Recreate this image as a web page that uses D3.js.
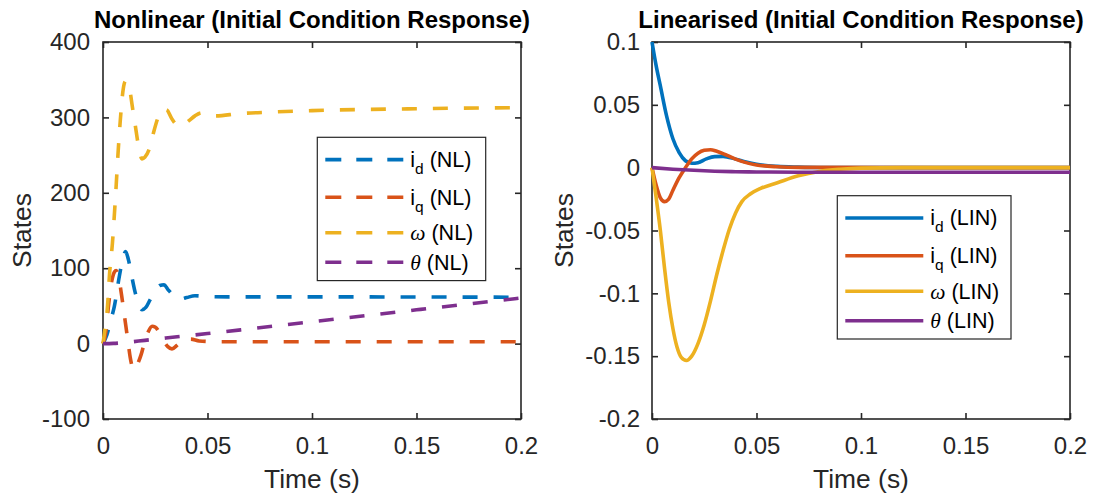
<!DOCTYPE html>
<html>
<head>
<meta charset="utf-8">
<script src="https://cdn.jsdelivr.net/npm/d3@7"></script>
<style>
  body { margin: 0; background: #fff; }
  svg { font-family: "Liberation Sans", Arial, sans-serif; }
</style>
</head>
<body>
<svg id="chart" width="1116" height="493"></svg>
<script>
// time ticks shared by both plots
const xTicks = [0, 0.05, 0.1, 0.15, 0.2];
const yTicksNL = [-100, 0, 100, 200, 300, 400];
const yTicksLIN = [-0.2, -0.15, -0.1, -0.05, 0, 0.05, 0.1];

// nonlinear response, [time, value]
const idNL = [[0,0],[0.0018,11],[0.0036,30],[0.0054,49],[0.0078,89],[0.0095,113],[0.0108,122],[0.0121,112],
  [0.0137,90],[0.0153,69],[0.017,53],[0.0187,45],[0.0205,48],[0.0225,58],[0.025,70],[0.0272,77],[0.0292,78],
  [0.031,72],[0.034,63],[0.037,59],[0.04,61],[0.044,63.5],[0.05,62.5],[0.06,62],[0.1,62],[0.15,61.8],[0.2,61.5]];
const iqNL = [[0,0],[0.0013,14],[0.0025,47],[0.004,80],[0.0055,95],[0.0063,97],[0.0075,88],[0.0089,64],[0.01,42],
  [0.011,22],[0.012,2],[0.013,-18],[0.014,-31],[0.0148,-35],[0.016,-30],[0.0182,-15],[0.02,3],[0.0217,16],
  [0.0235,23],[0.025,22],[0.028,9],[0.031,-4],[0.033,-7],[0.0355,-2],[0.0384,6],[0.042,6],[0.046,3.5],
  [0.055,2.5],[0.1,2.5],[0.2,2.5]];
const omegaNL = [[0,0],[0.0007,14],[0.0022,51],[0.0031,91],[0.0045,133],[0.0062,205],[0.0073,257],[0.0083,297],
  [0.0097,338],[0.0108,348],[0.0118,345],[0.0129,335],[0.014,315],[0.0153,292],[0.017,262],[0.0187,245],
  [0.02,247],[0.0225,261],[0.0241,279],[0.0265,301],[0.0289,311],[0.0305,310],[0.033,298],[0.0355,290],
  [0.0378,289],[0.0408,295],[0.044,302],[0.0472,306],[0.054,302],[0.065,305],[0.08,307],[0.1,309],
  [0.15,311.5],[0.2,313]];
const thetaNL = [[0,0],[0.005,0.3],[0.01,1.3],[0.02,4.3],[0.03,7.4],[0.04,10.3],[0.05,13.3],[0.07,19.5],
  [0.1,29],[0.15,44.8],[0.2,60.5]];

// linearised response
const idLIN = [[0,0.1],[0.002,0.081],[0.004,0.065],[0.007,0.041],[0.01,0.023],[0.013,0.012],[0.016,0.0055],
  [0.019,0.0035],[0.022,0.004],[0.026,0.007],[0.03,0.0088],[0.034,0.009],[0.04,0.0068],[0.045,0.0045],
  [0.05,0.0027],[0.06,0.001],[0.07,0.0004],[0.08,0.0001],[0.2,0]];
const iqLIN = [[0,0],[0.002,-0.014],[0.004,-0.024],[0.006,-0.027],[0.008,-0.025],[0.01,-0.018],[0.013,-0.008],
  [0.016,0],[0.019,0.007],[0.022,0.0115],[0.025,0.0138],[0.028,0.0143],[0.031,0.013],[0.035,0.0105],
  [0.04,0.0068],[0.045,0.004],[0.05,0.0022],[0.06,0.0007],[0.07,0.0002],[0.2,0]];
const omegaLIN = [[0,0],[0.002,-0.024],[0.004,-0.05],[0.006,-0.08],[0.008,-0.107],[0.01,-0.128],[0.012,-0.143],
  [0.014,-0.151],[0.0165,-0.1535],[0.019,-0.15],[0.022,-0.14],[0.025,-0.125],[0.028,-0.106],[0.031,-0.085],
  [0.034,-0.066],[0.037,-0.049],[0.04,-0.036],[0.043,-0.027],[0.047,-0.021],[0.052,-0.0165],[0.06,-0.012],
  [0.07,-0.0065],[0.08,-0.003],[0.09,-0.0013],[0.1,-0.0004],[0.12,0],[0.2,0]];
const thetaLIN = [[0,0],[0.01,-0.0012],[0.02,-0.0021],[0.03,-0.0028],[0.04,-0.0032],[0.05,-0.0034],
  [0.07,-0.0036],[0.1,-0.0037],[0.2,-0.0037]];

const colors = ['#0072BD', '#D95319', '#EDB120', '#7E2F8E'];
const axisCol = '#262626';

const svg = d3.select('#chart');

function drawPanel(opts){
  const x = d3.scaleLinear().domain([0, 0.2]).range([opts.left, opts.right]);
  const y = d3.scaleLinear().domain(opts.yDomain).range([419, 42]);
  const g = svg.append('g');

  // box
  g.append('rect')
    .attr('x', opts.left).attr('y', 42)
    .attr('width', opts.right - opts.left).attr('height', 377)
    .attr('fill', 'none').attr('stroke', axisCol).attr('stroke-width', 1.6);

  const fmt = d => String(d);

  const bottom = g.append('g').attr('transform', 'translate(0,419)')
    .call(d3.axisBottom(x).tickValues(xTicks).tickFormat(fmt).tickSizeInner(-6).tickSizeOuter(0).tickPadding(17.5));
  const top = g.append('g').attr('transform', 'translate(0,42)')
    .call(d3.axisTop(x).tickValues(xTicks).tickFormat('').tickSizeInner(-6).tickSizeOuter(0));
  const left = g.append('g').attr('transform', `translate(${opts.left},0)`)
    .call(d3.axisLeft(y).tickValues(opts.yTicks).tickFormat(fmt).tickSizeInner(-6).tickSizeOuter(0).tickPadding(opts.yPad));
  const right = g.append('g').attr('transform', `translate(${opts.right},0)`)
    .call(d3.axisRight(y).tickValues(opts.yTicks).tickFormat('').tickSizeInner(-6).tickSizeOuter(0));

  [bottom, top, left, right].forEach(a => {
    a.select('.domain').remove();
    a.selectAll('line').attr('stroke', axisCol).attr('stroke-width', 1.6);
    a.selectAll('text').attr('fill', axisCol)
      .style('font-family', '"Liberation Sans", Arial, sans-serif')
      .style('font-size', '24px');
  });

  // titles and labels
  g.append('text')
    .attr('x', (opts.left + opts.right) / 2).attr('y', 28)
    .attr('text-anchor', 'middle')
    .style('font-size', '24px').style('font-weight', 'bold')
    .attr('fill', '#000')
    .text(opts.title);

  g.append('text')
    .attr('x', (opts.left + opts.right) / 2).attr('y', 488)
    .attr('text-anchor', 'middle')
    .style('font-size', '26.4px')
    .attr('fill', axisCol)
    .text('Time (s)');

  g.append('text')
    .attr('transform', `translate(${opts.ylabX},230.5) rotate(-90)`)
    .attr('text-anchor', 'middle')
    .style('font-size', '26.4px')
    .attr('fill', axisCol)
    .text('States');

  // curves
  const line = d3.line()
    .x(d => x(d[0]))
    .y(d => y(d[1]))
    .curve(d3.curveMonotoneX);

  opts.series.forEach((s, i) => {
    g.append('path')
      .attr('d', line(s))
      .attr('fill', 'none')
      .attr('stroke', colors[i])
      .attr('stroke-width', 3.6)
      .attr('stroke-dasharray', opts.dash || null);
  });

  // legend
  const lg = g.append('g').attr('transform', `translate(${opts.legX},${opts.legY})`);
  lg.append('rect')
    .attr('width', opts.legW).attr('height', 143.3)
    .attr('fill', '#fff').attr('stroke', axisCol).attr('stroke-width', 1.2);

  const rowY = [22.3, 60, 95.5, 125];
  const names = [['i', 'd'], ['i', 'q'], ['\u03c9', null], ['\u03b8', null]];
  names.forEach((n, i) => {
    lg.append('line')
      .attr('x1', 8).attr('x2', 86)
      .attr('y1', rowY[i]).attr('y2', rowY[i])
      .attr('stroke', colors[i]).attr('stroke-width', 3.6)
      .attr('stroke-dasharray', opts.dash ? '16,15' : null);

    const t = lg.append('text')
      .attr('x', 93).attr('y', rowY[i] + 7.5)
      .attr('fill', '#000')
      .style('font-size', '21.5px');
    if (n[1]) {
      t.append('tspan').text(n[0]);
      t.append('tspan').attr('dy', 7).style('font-size', '15.5px').text(n[1]);
      t.append('tspan').attr('dy', -7).text(' ' + opts.tag);
    } else {
      t.append('tspan')
        .style('font-family', '"Liberation Serif", "DejaVu Serif", serif')
        .style('font-style', 'italic')
        .text(n[0]);
      t.append('tspan').text(' ' + opts.tag);
    }
  });
}

drawPanel({
  left: 103, right: 521,
  yDomain: [-100, 400], yTicks: yTicksNL, yPad: 13, ylabX: 31,
  title: 'Nonlinear (Initial Condition Response)',
  series: [idNL, iqNL, omegaNL, thetaNL],
  dash: '15,16', tag: '(NL)',
  legX: 317.3, legY: 137.3, legW: 168.4
});

drawPanel({
  left: 652, right: 1070,
  yDomain: [-0.2, 0.1], yTicks: yTicksLIN, yPad: 12, ylabX: 573,
  title: 'Linearised (Initial Condition Response)',
  series: [idLIN, iqLIN, omegaLIN, thetaLIN],
  dash: null, tag: '(LIN)',
  legX: 837.3, legY: 195.7, legW: 173.7
});
</script>
</body>
</html>
